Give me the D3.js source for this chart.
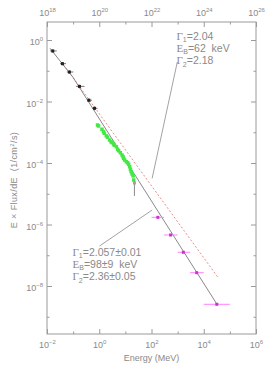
<!DOCTYPE html>
<html>
<head>
<meta charset="utf-8">
<script src="https://cdn.jsdelivr.net/npm/d3@7"></script>
<style>
    body { margin: 0; background: #fff; }
    text { font-family: "Liberation Sans", Arial, sans-serif; fill: #8a8a8a; white-space: pre; }
</style>
</head>
<body>
<div id="chart"></div>
<script>
// ---- data ----
const xTickValues = [1e-2, 1e-1, 1e0, 1e1, 1e2, 1e3, 1e4, 1e5, 1e6];
const topTickValues = [1e18, 1e19, 1e20, 1e21, 1e22, 1e23, 1e24, 1e25, 1e26];
const yTickValues = [1e0, 1e-1, 1e-2, 1e-3, 1e-4, 1e-5, 1e-6, 1e-7, 1e-8, 1e-9];

// black points (low-energy instrument)
const blackE  = [0.0166, 0.039, 0.072, 0.175, 0.40, 0.66];
const blackElo = [0.0130, 0.0316, 0.0575, 0.130, 0.339, 0.525];
const blackEhi = [0.0236, 0.0537, 0.102, 0.272, 0.525, 0.861];
const blackF  = [0.44, 0.17, 0.091, 0.031, 0.011, 0.0060];
const blackFlo = [0.39, 0.15, 0.080, 0.027, 0.0096, 0.0052];
const blackFhi = [0.50, 0.19, 0.103, 0.035, 0.0126, 0.0069];

// green points
const greenE = [0.86, 0.94, 1.27, 1.46, 1.56, 1.86, 2.08, 2.49, 2.82, 3.08, 3.55, 3.78, 4.51, 5.06,
                5.52, 6.43, 7.46, 8.16, 8.60, 9.40, 10.9, 12.2, 13.4, 14.6, 15.6, 16.6, 18.1, 19.8, 20.9];
const greenF = [1.72e-3, 1.60e-3, 1.25e-3, 1.04e-3, 9.2e-4, 7.6e-4, 6.9e-4, 5.6e-4, 4.9e-4, 4.6e-4,
                4.15e-4, 3.77e-4, 3.39e-4, 2.79e-4, 2.51e-4, 2.16e-4, 1.82e-4, 1.60e-4, 1.42e-4, 1.25e-4,
                1.10e-4, 1.02e-4, 9.1e-5, 7.6e-5, 6.2e-5, 5.2e-5, 4.4e-5, 3.8e-5, 2.8e-5];
// gray last point with its error bar
const tailE = [22.2];
const tailF = [2.24e-5];
const tailFlo = [8.5e-6];
const tailFhi = [2.6e-5];

// magenta points
const magE   = [175, 538, 1656, 5380, 31600];
const magElo = [100, 300, 1000, 3000, 10000];
const magEhi = [300, 1000, 3000, 10000, 100000];
const magF   = [1.71e-6, 4.56e-7, 1.25e-7, 2.71e-8, 2.54e-9];

// model lines (vertices)
const fitE = [0.013, 0.098, 31600];
const fitF = [0.54, 0.062, 2.6e-9];
const dashE = [0.0424, 0.062, 33600];
const dashF = [0.154, 0.1035, 2.0e-8];

// annotations
const noteTop = [["Γ", "1", "=2.04"], ["E", "B", "=62  keV"], ["Γ", "2", "=2.18"]];
const noteBottom = [["Γ", "1", "=2.057±0.01"], ["E", "B", "=98±9  keV"], ["Γ", "2", "=2.36±0.05"]];
const pointerTop = [[973, 0.193], [106, 3.2e-5]];
const pointerBottom = [[1.03, 2.0e-7], [106, 2.96e-6]];

// ---- layout ----
const W = 273, H = 369;
const box = {left: 47, right: 256, top: 22, bottom: 334};

const svg = d3.select("#chart").append("svg")
    .attr("width", W)
    .attr("height", H);

const x = d3.scaleLog().domain([1e-2, 1e6]).range([box.left, box.right]);
const xTop = d3.scaleLog().domain([1e18, 1e26]).range([box.left, box.right]);
const y = d3.scaleLog().domain([2.75e-10, 3.85]).range([box.bottom, box.top]);

const axisColor = "#9a9a9a";
const major = 5, minor = 2.5;

function supLabel(sel, v) {
    let e = Math.round(Math.log10(v));
    sel.text(null);
    if (e % 2 !== 0) return;
    sel.append("tspan").text("10");
    sel.append("tspan").attr("dy", -4).attr("font-size", "6px").text(e < 0 ? "−" + (-e) : e);
}

function styleAxis(g, horizontal, labels) {
    g.select(".domain").remove();
    g.selectAll(".tick line")
        .attr("stroke", axisColor)
        .each(function(d) {
            let e = Math.round(Math.log10(d));
            let len = (e % 2 === 0) ? major : minor;
            let sign = +d3.select(this).attr(horizontal ? "y2" : "x2") < 0 ? -1 : 1;
            d3.select(this).attr(horizontal ? "y2" : "x2", sign * len);
        });
    g.selectAll(".tick text")
        .attr("font-size", "9px")
        .attr("fill", "#8a8a8a")
        .each(function(d) {
            if (labels) supLabel(d3.select(this), d);
            else d3.select(this).text(null);
        });
}

const gBottom = svg.append("g")
    .attr("transform", `translate(0,${box.bottom})`)
    .call(d3.axisBottom(x).tickValues(xTickValues).tickSize(-major).tickPadding(8));
styleAxis(gBottom, true, true);

const gTop = svg.append("g")
    .attr("transform", `translate(0,${box.top})`)
    .call(d3.axisTop(xTop).tickValues(topTickValues).tickSize(-major).tickPadding(6));
styleAxis(gTop, true, true);

const gLeft = svg.append("g")
    .attr("transform", `translate(${box.left},0)`)
    .call(d3.axisLeft(y).tickValues(yTickValues).tickSize(-major).tickPadding(4));
styleAxis(gLeft, false, true);
gLeft.selectAll(".tick text").attr("dy", "0.5em");

const gRight = svg.append("g")
    .attr("transform", `translate(${box.right},0)`)
    .call(d3.axisRight(y).tickValues(yTickValues).tickSize(-major));
styleAxis(gRight, false, false);

// frame
svg.append("rect")
    .attr("x", box.left).attr("y", box.top)
    .attr("width", box.right - box.left).attr("height", box.bottom - box.top)
    .attr("fill", "none").attr("stroke", axisColor).attr("stroke-width", 1);

// axis titles
svg.append("text")
    .attr("x", (box.left + box.right) / 2)
    .attr("y", 361)
    .attr("text-anchor", "middle")
    .attr("font-size", "9px")
    .text("Energy (MeV)");

const yTitle = svg.append("text")
    .attr("transform", "translate(17,180) rotate(-90)")
    .attr("text-anchor", "middle")
    .attr("font-size", "9px")
    .attr("letter-spacing", "0.4px");
yTitle.append("tspan").text("E × Flux/dE  (1/cm");
yTitle.append("tspan").attr("dy", -3.5).attr("font-size", "6px").text("2");
yTitle.append("tspan").attr("dy", 3.5).text("/s)");

// lines
const line = d3.line().x(d => x(d[0])).y(d => y(d[1]));
svg.append("defs").append("clipPath").attr("id", "plotclip")
    .append("rect").attr("x", box.left).attr("y", box.top)
    .attr("width", box.right - box.left).attr("height", box.bottom - box.top);
const plot = svg.append("g").attr("clip-path", "url(#plotclip)");

plot.append("path")
    .datum(dashE.map((e, i) => [e, dashF[i]]))
    .attr("d", line)
    .attr("fill", "none")
    .attr("stroke", "#f08a8a")
    .attr("stroke-width", 1)
    .attr("stroke-dasharray", "2,2");

plot.append("path")
    .datum(fitE.map((e, i) => [e, fitF[i]]))
    .attr("d", line)
    .attr("fill", "none")
    .attr("stroke", "#7a7a7a")
    .attr("stroke-width", 0.9);

// pointers
[pointerTop, pointerBottom].forEach(p => {
    plot.append("path")
        .datum(p)
        .attr("d", line)
        .attr("fill", "none")
        .attr("stroke", "#8a8a8a")
        .attr("stroke-width", 0.8);
});

// black points
const blackData = blackE.map((e, i) => ({e, lo: blackElo[i], hi: blackEhi[i], f: blackF[i], flo: blackFlo[i], fhi: blackFhi[i]}));
plot.selectAll(".bx").data(blackData).enter().append("line")
    .attr("x1", d => x(d.lo)).attr("x2", d => x(d.hi))
    .attr("y1", d => y(d.f)).attr("y2", d => y(d.f))
    .attr("stroke", "#666").attr("stroke-width", 0.9);
plot.selectAll(".by").data(blackData).enter().append("line")
    .attr("x1", d => x(d.e)).attr("x2", d => x(d.e))
    .attr("y1", d => y(d.flo)).attr("y2", d => y(d.fhi))
    .attr("stroke", "#666").attr("stroke-width", 0.9);
plot.selectAll(".bp").data(blackData).enter().append("rect")
    .attr("x", d => x(d.e) - 1.5).attr("y", d => y(d.f) - 1.5)
    .attr("width", 3).attr("height", 3)
    .attr("fill", "#222");

// green points
const greenData = greenE.map((e, i) => ({e, f: greenF[i]}));
plot.selectAll(".gp").data(greenData).enter().append("rect")
    .attr("x", d => x(d.e) - 1.75).attr("y", d => y(d.f) - 1.75)
    .attr("width", 3.5).attr("height", 3.5)
    .attr("fill", "#44e844");

const tailData = tailE.map((e, i) => ({e, f: tailF[i], flo: tailFlo[i], fhi: tailFhi[i]}));
plot.selectAll(".ty").data(tailData).enter().append("line")
    .attr("x1", d => x(d.e)).attr("x2", d => x(d.e))
    .attr("y1", d => y(d.flo)).attr("y2", d => y(d.fhi))
    .attr("stroke", "#8a8a8a").attr("stroke-width", 1);
plot.selectAll(".tp").data(tailData).enter().append("rect")
    .attr("x", d => x(d.e) - 1.5).attr("y", d => y(d.f) - 1.5)
    .attr("width", 3).attr("height", 3)
    .attr("fill", "#a0a0a0");

// magenta points
const magData = magE.map((e, i) => ({e, lo: magElo[i], hi: magEhi[i], f: magF[i]}));
plot.selectAll(".mx").data(magData).enter().append("line")
    .attr("x1", d => x(d.lo)).attr("x2", d => x(d.hi))
    .attr("y1", d => y(d.f)).attr("y2", d => y(d.f))
    .attr("stroke", "#ff80ff").attr("stroke-width", 1);
plot.selectAll(".mp").data(magData).enter().append("rect")
    .attr("x", d => x(d.e) - 1.5).attr("y", d => y(d.f) - 1.5)
    .attr("width", 3).attr("height", 3)
    .attr("fill", "#d030d0");

// annotation text
function note(rows, x0, y0) {
    rows.forEach((r, i) => {
        let t = svg.append("text")
            .attr("x", x0).attr("y", y0 + i * 12.3)
            .attr("font-size", "10.5px");
        t.append("tspan").attr("font-family", "'Liberation Serif', serif").attr("font-size", "11px").text(r[0]);
        t.append("tspan").attr("dy", 2.5).attr("font-size", "7px").text(r[1]);
        t.append("tspan").attr("dy", -2.5).text(r[2]);
    });
}
note(noteTop, 176.5, 39.5);
note(noteBottom, 72.5, 255.5);
</script>
</body>
</html>
